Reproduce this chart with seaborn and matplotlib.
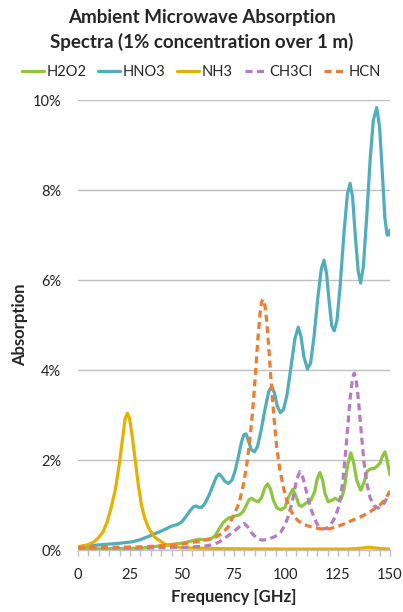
import numpy as np
import pandas as pd
import matplotlib
matplotlib.use("Agg")
import matplotlib.pyplot as plt
import seaborn as sns
from matplotlib.ticker import FuncFormatter, MultipleLocator

# values (frequency in GHz, absorption in %)
h2o2_f = [0, 15, 30, 43, 51, 56, 58.7, 61, 63.5, 66, 68, 70, 72.3, 75, 77.5, 79.5, 81,
          82.3, 83.5, 85, 86.7, 88.3, 89.8, 91.2, 92.5, 94, 95.5, 97.5, 99.5, 101.3,
          103.2, 104.8, 106.2, 107.5, 109.5, 112, 113.8, 115, 116.3, 117.6, 118.8, 120.3,
          122, 123.6, 125, 126.5, 128, 129.5, 131.1, 132.5, 134, 135.9, 137.5, 139, 140.5,
          142.8, 145.2, 146.5, 147.6, 148.6, 149.4, 150]
h2o2_v = [0.02, 0.03, 0.04, 0.11, 0.16, 0.22, 0.24, 0.22, 0.23, 0.32, 0.48, 0.62, 0.71,
          0.75, 0.78, 0.86, 1.00, 1.12, 1.15, 1.10, 1.07, 1.17, 1.38, 1.47, 1.36, 1.10,
          0.94, 0.89, 0.95, 1.18, 1.35, 1.20, 1.00, 0.97, 1.04, 1.11, 1.30, 1.58, 1.72,
          1.55, 1.25, 1.07, 1.10, 1.15, 1.11, 1.13, 1.35, 1.85, 2.16, 1.95, 1.55, 1.33,
          1.50, 1.75, 1.80, 1.82, 1.93, 2.10, 2.18, 2.00, 1.80, 1.67]

hno3_f = [0, 7, 14.4, 20, 25.8, 30, 35.4, 40, 45, 48, 50, 52, 54, 55.5, 56.8, 58, 59.5,
          61, 63, 65, 66.5, 67.8, 69, 70.5, 72.3, 74, 75.5, 77, 78.5, 79.7, 80.8, 82,
          83.3, 84.8, 86.3, 88, 90, 91.7, 93.1, 94.4, 95.8, 97.3, 98.8, 100.5, 102.5,
          104.3, 105.9, 107.2, 108.6, 110.3, 111.8, 113.5, 115.3, 117, 118.3, 119.5,
          120.8, 122, 123.2, 124.5, 126, 127.8, 129.5, 130.8, 132, 133.3, 134.7, 135.9,
          137.2, 138.8, 140.5, 142, 143.6, 145, 146.3, 147.5, 148.6, 149.4, 150]
hno3_v = [0.07, 0.10, 0.13, 0.15, 0.18, 0.23, 0.33, 0.42, 0.53, 0.57, 0.63, 0.75, 0.88,
          0.96, 0.98, 0.95, 0.95, 1.03, 1.22, 1.45, 1.62, 1.69, 1.64, 1.53, 1.48, 1.55,
          1.75, 2.05, 2.38, 2.56, 2.58, 2.42, 2.23, 2.18, 2.30, 2.65, 3.15, 3.52, 3.63,
          3.50, 3.20, 3.05, 3.12, 3.45, 4.10, 4.70, 4.95, 4.75, 4.30, 4.02, 4.15, 4.75,
          5.60, 6.25, 6.44, 6.15, 5.50, 4.98, 4.87, 5.10, 5.85, 7.00, 7.90, 8.15, 7.85,
          7.00, 6.20, 5.93, 6.30, 7.40, 8.70, 9.55, 9.83, 9.40, 8.40, 7.40, 7.00, 7.00,
          7.11]

nh3_f = [0, 5, 8, 10, 12, 14, 16, 18, 20, 21.5, 22.6, 23.7, 24.8, 26, 27.5, 29, 30.5, 32,
         34, 37, 42, 50, 70, 100, 130, 136, 140, 144, 150]
nh3_v = [0.07, 0.12, 0.19, 0.28, 0.40, 0.62, 0.95, 1.35, 1.95, 2.50, 2.90, 3.04, 2.92,
         2.55, 2.00, 1.45, 1.00, 0.72, 0.48, 0.28, 0.12, 0.05, 0.03, 0.02, 0.02, 0.04,
         0.06, 0.04, 0.02]

ch3cl_f = [0, 20, 40, 50, 60, 65, 68, 71, 74, 76.5, 78.5, 80, 81.5, 83.5, 86, 88.3, 91,
           94.7, 97.5, 99.5, 101.5, 103.5, 105.2, 106.7, 108.2, 109.8, 111.5, 113.5,
           115.5, 117.5, 119.5, 121.5, 123.5, 125.5, 127.3, 129, 130.8, 132, 132.8, 133.7,
           134.8, 136.2, 137.5, 139, 140.5, 142.5, 144.4, 146, 147.6, 149, 150]
ch3cl_v = [0.02, 0.03, 0.05, 0.06, 0.08, 0.12, 0.18, 0.28, 0.38, 0.47, 0.56, 0.59, 0.52,
           0.38, 0.26, 0.22, 0.23, 0.30, 0.40, 0.55, 0.80, 1.18, 1.58, 1.74, 1.60, 1.30,
           0.98, 0.72, 0.53, 0.47, 0.48, 0.56, 0.72, 0.98, 1.50, 2.35, 3.35, 3.82, 3.93,
           3.80, 3.35, 2.60, 1.95, 1.45, 1.15, 0.98, 0.93, 0.98, 1.07, 1.20, 1.30]

hcn_f = [0, 15, 30.6, 46.6, 57.8, 66, 69, 72, 75, 77.5, 79.5, 81, 82.5, 84, 85.3, 86.5,
         87.5, 88.3, 89, 89.8, 90.7, 91.8, 93, 94.2, 95.5, 97, 98.7, 100.5, 102.7, 105.5,
         109, 113, 117, 121, 124.4, 128, 132.4, 136.5, 140.4, 143, 145.2, 147.8, 150]
hcn_v = [0.05, 0.06, 0.07, 0.11, 0.19, 0.28, 0.36, 0.50, 0.78, 1.05, 1.45, 1.85, 2.40,
         3.10, 3.90, 4.70, 5.25, 5.52, 5.57, 5.45, 5.10, 4.45, 3.65, 2.95, 2.30, 1.80,
         1.40, 1.08, 0.84, 0.66, 0.56, 0.50, 0.47, 0.47, 0.52, 0.58, 0.67, 0.75, 0.85,
         0.93, 1.00, 1.13, 1.31]

series = ["H2O2", "HNO3", "NH3", "CH3Cl", "HCN"]
colors = ["#8CC63F", "#50AEBC", "#E6B000", "#B57CC4", "#ED7D31"]

frames = []
for name, f, v in zip(series,
                      [h2o2_f, hno3_f, nh3_f, ch3cl_f, hcn_f],
                      [h2o2_v, hno3_v, nh3_v, ch3cl_v, hcn_v]):
    frames.append(pd.DataFrame({"freq": f, "absorption": v, "gas": name}))
df = pd.concat(frames, ignore_index=True)

sns.set_style("white")
plt.rcParams["font.family"] = ["Lato", "DejaVu Sans"]

fig = plt.figure(figsize=(4.03, 6.12), dpi=100)
ax = fig.add_axes([0.1935, 0.1013, 0.7742, 0.7353])

dashes = {"H2O2": "", "HNO3": "", "NH3": "", "CH3Cl": (2.2, 1.4), "HCN": (2.2, 1.4)}
sns.lineplot(data=df, x="freq", y="absorption", hue="gas", style="gas",
             hue_order=series, style_order=series, palette=colors, dashes=dashes,
             linewidth=2.3, sort=False, ax=ax, legend=True)
for line in ax.lines:
    line.set_solid_joinstyle("round")
    line.set_dash_joinstyle("round")

ax.set_xlim(0, 150)
ax.set_ylim(0, 10)
ax.xaxis.set_major_locator(MultipleLocator(25))
ax.xaxis.set_minor_locator(MultipleLocator(5))
ax.yaxis.set_major_locator(MultipleLocator(2))
ax.yaxis.set_major_formatter(FuncFormatter(lambda v, p: f"{v:.0f}%"))

ax.grid(axis="y", color="#BFBFBF", linewidth=1)
ax.set_axisbelow(True)
for s in ["top", "right", "left"]:
    ax.spines[s].set_visible(False)
ax.spines["bottom"].set_color("#BFBFBF")
ax.spines["bottom"].set_linewidth(1)

ax.tick_params(axis="x", which="both", direction="out", color="#BFBFBF", length=4,
               width=1, labelsize=10.5, labelcolor="#222222", pad=9, bottom=True)
ax.tick_params(axis="y", length=0, labelsize=10.5, labelcolor="#222222", pad=12)

ax.set_xlabel("Frequency [GHz]", fontsize=12, fontweight="bold")
ax.set_ylabel("Absorption", fontsize=12, fontweight="bold")
ax.xaxis.set_label_coords(0.5, -0.086)
ax.yaxis.set_label_coords(-0.16, 0.5)

handles, labels = ax.get_legend_handles_labels()
ax.legend(handles, labels, loc="center", bbox_to_anchor=(0.5, 0.882),
          bbox_transform=fig.transFigure, ncol=5, frameon=False, fontsize=10.5,
          handlelength=1.5, handletextpad=0.2, columnspacing=0.8, borderaxespad=0)

fig.text(0.5, 1 - 30 / 612, "Ambient Microwave Absorption\nSpectra (1% concentration over 1 m)",
         ha="center", va="center", fontsize=13.5, fontweight="bold", linespacing=1.4)

fig.savefig("out.png", dpi=100)
